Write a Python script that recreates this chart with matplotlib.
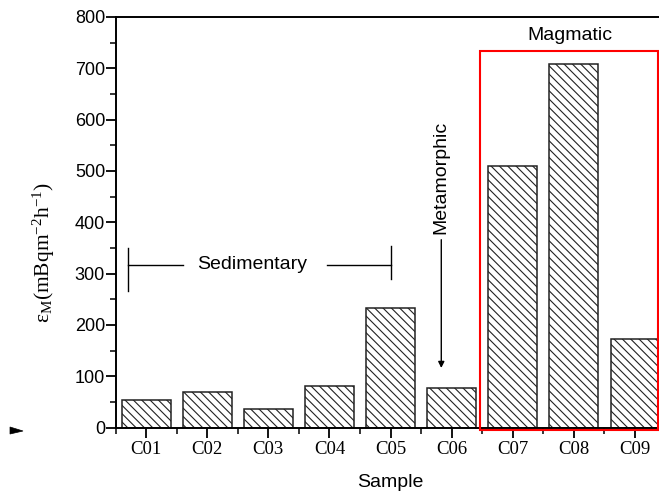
import matplotlib
matplotlib.use("Agg")
import matplotlib.pyplot as plt
from matplotlib.patches import Rectangle, Polygon
from matplotlib.ticker import MultipleLocator, FixedLocator

samples = ["C01", "C02", "C03", "C04", "C05", "C06", "C07", "C08", "C09"]
values = [53, 69, 37, 80, 233, 77, 510, 709, 172]
y_ticks = [0, 100, 200, 300, 400, 500, 600, 700, 800]

W, H = 659, 496
fig = plt.figure(figsize=(W / 100, H / 100), dpi=100)
ax = fig.add_axes([115.5 / W, 1 - 427.5 / H, (665.6 - 115.5) / W, (427.5 - 17) / H])

pos = list(range(1, len(samples) + 1))
plt.rcParams['hatch.linewidth'] = 0.8
ax.bar(pos, values, width=0.8, facecolor="white", edgecolor="#222222",
       linewidth=1.1, hatch="\\\\\\\\", zorder=2)

ax.set_xlim(0.5, 9.5)
ax.set_ylim(0, 800)
ax.set_xticks(pos)
ax.set_xticklabels(samples, family="Liberation Serif", fontsize=13.5)
ax.xaxis.set_minor_locator(FixedLocator([p + 0.5 for p in range(0, 10)]))
ax.set_yticks(y_ticks)
ax.set_yticklabels([str(v) for v in y_ticks], family="Liberation Sans", fontsize=13)
ax.yaxis.set_minor_locator(MultipleLocator(50))
ax.tick_params(axis="both", which="major", direction="out", length=7, width=1.3)
ax.tick_params(axis="both", which="minor", direction="out", length=4, width=1.1)
ax.tick_params(axis="x", pad=3)
ax.tick_params(axis="y", pad=0.5)
for s in ax.spines.values():
    s.set_linewidth(1.4)

ax.set_xlabel("Sample", family="Liberation Sans", fontsize=14, labelpad=11)
ax.set_ylabel(r"$\mathregular{ε_M(mBqm^{-2}h^{-1})}$", family="Liberation Serif",
              fontsize=15.5)
ax.yaxis.set_label_coords(-0.106, 0.4275)

# Sedimentary bracket
lc = "black"
ax.plot([0.70, 1.60], [317, 317], color=lc, lw=1, clip_on=False)
ax.plot([3.96, 5.01], [317, 317], color=lc, lw=1, clip_on=False)
ax.plot([0.70, 0.70], [266, 350], color=lc, lw=1, clip_on=False)
ax.plot([5.01, 5.01], [289, 354], color=lc, lw=1, clip_on=False)
ax.text(2.74, 317, "Sedimentary", ha="center", va="center",
        family="Liberation Sans", fontsize=14)

# Metamorphic
ax.annotate("", xy=(5.83, 116), xytext=(5.83, 366),
            arrowprops=dict(arrowstyle="-|>", color="black", lw=1,
                            mutation_scale=9, shrinkA=0, shrinkB=0))
ax.text(5.83, 487, "Metamorphic", rotation=90, ha="center", va="center",
        family="Liberation Sans", fontsize=14)

# Magmatic
ax.add_patch(Rectangle((6.47, -4), 9.38 - 6.47, 737, fill=False,
                       edgecolor="red", lw=1.5, clip_on=False, zorder=5))
ax.text(7.93, 764, "Magmatic", ha="center", va="center",
        family="Liberation Sans", fontsize=14)

# small wedge at left
pts = [(10, 427), (23, 431), (10, 434)]
fig.patches.append(Polygon([(x / W, 1 - y / H) for x, y in pts], closed=True,
                           transform=fig.transFigure, facecolor="black",
                           edgecolor="black", lw=0.5))

fig.savefig("out.png", dpi=100)
